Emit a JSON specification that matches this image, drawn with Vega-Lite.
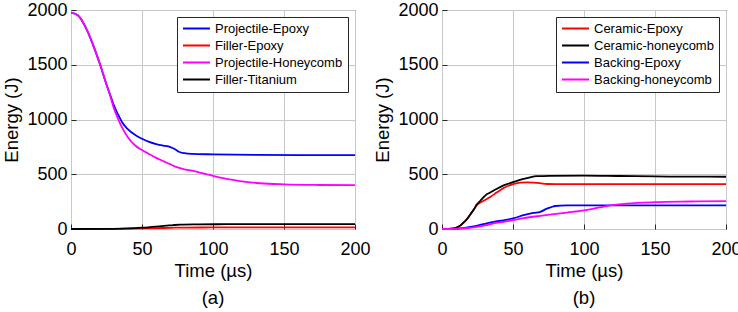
{
  "$schema": "https://vega.github.io/schema/vega-lite/v6.json",
  "padding": {"left": 2, "top": 0, "right": 0, "bottom": 0},
  "background": "white",
  "spacing": 2,
  "config": {
    "font": "Liberation Sans",
    "view": {"stroke": "#262626", "strokeWidth": 1},
    "axis": {
      "domain": false,
      "ticks": true,
      "tickSize": -5,
      "tickColor": "#262626",
      "tickWidth": 1,
      "grid": true,
      "gridColor": "#c8c8c8",
      "gridWidth": 1,
      "format": "d",
      "labelFont": "Liberation Sans",
      "labelFontSize": 18,
      "labelColor": "#000000",
      "titleFont": "Liberation Sans",
      "titleFontSize": 18.5,
      "titleFontWeight": "normal",
      "titleColor": "#000000"
    },
    "axisX": {"labelPadding": 16, "titlePadding": 3, "labelFlush": false},
    "axisY": {"labelPadding": 9, "titlePadding": 5},
    "legend": {
      "orient": "top-right",
      "offset": 7,
      "title": null,
      "strokeColor": "#262626",
      "fillColor": "white",
      "padding": 5,
      "symbolType": "stroke",
      "symbolSize": 729,
      "symbolStrokeWidth": 2,
      "labelFont": "Liberation Sans",
      "labelFontSize": 13,
      "labelColor": "#000000",
      "labelOffset": 4,
      "rowPadding": 3,
      "clipHeight": 13
    },
    "title": {"font": "Liberation Sans", "fontSize": 18.5, "fontWeight": "normal", "color": "#000000", "orient": "bottom", "offset": 9}
  },
  "resolve": {"scale": {"color": "independent"}},
  "hconcat": [
    {
      "width": 284,
      "height": 219,
      "title": {"text": "(a)", "orient": "bottom", "anchor": "middle"},
      "data": {"values": [
        {"series": "Projectile-Epoxy", "t": 0, "E": 1975},
        {"series": "Projectile-Epoxy", "t": 5, "E": 1950},
        {"series": "Projectile-Epoxy", "t": 10, "E": 1850},
        {"series": "Projectile-Epoxy", "t": 15, "E": 1700},
        {"series": "Projectile-Epoxy", "t": 20, "E": 1520},
        {"series": "Projectile-Epoxy", "t": 25, "E": 1320},
        {"series": "Projectile-Epoxy", "t": 28, "E": 1210},
        {"series": "Projectile-Epoxy", "t": 30, "E": 1136},
        {"series": "Projectile-Epoxy", "t": 33, "E": 1050},
        {"series": "Projectile-Epoxy", "t": 36, "E": 975},
        {"series": "Projectile-Epoxy", "t": 40, "E": 912},
        {"series": "Projectile-Epoxy", "t": 45, "E": 860},
        {"series": "Projectile-Epoxy", "t": 50, "E": 824},
        {"series": "Projectile-Epoxy", "t": 55, "E": 795},
        {"series": "Projectile-Epoxy", "t": 60, "E": 775},
        {"series": "Projectile-Epoxy", "t": 65, "E": 762},
        {"series": "Projectile-Epoxy", "t": 70, "E": 748},
        {"series": "Projectile-Epoxy", "t": 73, "E": 730},
        {"series": "Projectile-Epoxy", "t": 76, "E": 705},
        {"series": "Projectile-Epoxy", "t": 80, "E": 692},
        {"series": "Projectile-Epoxy", "t": 85, "E": 686},
        {"series": "Projectile-Epoxy", "t": 100, "E": 682},
        {"series": "Projectile-Epoxy", "t": 130, "E": 677},
        {"series": "Projectile-Epoxy", "t": 160, "E": 675},
        {"series": "Projectile-Epoxy", "t": 200, "E": 675},
        {"series": "Filler-Epoxy", "t": 0, "E": 0},
        {"series": "Filler-Epoxy", "t": 30, "E": 1},
        {"series": "Filler-Epoxy", "t": 50, "E": 5},
        {"series": "Filler-Epoxy", "t": 60, "E": 8},
        {"series": "Filler-Epoxy", "t": 70, "E": 11},
        {"series": "Filler-Epoxy", "t": 80, "E": 13},
        {"series": "Filler-Epoxy", "t": 100, "E": 14},
        {"series": "Filler-Epoxy", "t": 200, "E": 14},
        {"series": "Projectile-Honeycomb", "t": 0, "E": 1975},
        {"series": "Projectile-Honeycomb", "t": 5, "E": 1950},
        {"series": "Projectile-Honeycomb", "t": 10, "E": 1850},
        {"series": "Projectile-Honeycomb", "t": 15, "E": 1700},
        {"series": "Projectile-Honeycomb", "t": 20, "E": 1520},
        {"series": "Projectile-Honeycomb", "t": 25, "E": 1320},
        {"series": "Projectile-Honeycomb", "t": 28, "E": 1200},
        {"series": "Projectile-Honeycomb", "t": 30, "E": 1110},
        {"series": "Projectile-Honeycomb", "t": 33, "E": 1010},
        {"series": "Projectile-Honeycomb", "t": 36, "E": 925},
        {"series": "Projectile-Honeycomb", "t": 40, "E": 838},
        {"series": "Projectile-Honeycomb", "t": 45, "E": 765},
        {"series": "Projectile-Honeycomb", "t": 50, "E": 721},
        {"series": "Projectile-Honeycomb", "t": 55, "E": 685},
        {"series": "Projectile-Honeycomb", "t": 60, "E": 650},
        {"series": "Projectile-Honeycomb", "t": 65, "E": 620},
        {"series": "Projectile-Honeycomb", "t": 70, "E": 590},
        {"series": "Projectile-Honeycomb", "t": 75, "E": 562},
        {"series": "Projectile-Honeycomb", "t": 80, "E": 545},
        {"series": "Projectile-Honeycomb", "t": 86, "E": 530},
        {"series": "Projectile-Honeycomb", "t": 93, "E": 508},
        {"series": "Projectile-Honeycomb", "t": 100, "E": 485},
        {"series": "Projectile-Honeycomb", "t": 107, "E": 465},
        {"series": "Projectile-Honeycomb", "t": 114, "E": 448},
        {"series": "Projectile-Honeycomb", "t": 123, "E": 430},
        {"series": "Projectile-Honeycomb", "t": 133, "E": 418},
        {"series": "Projectile-Honeycomb", "t": 150, "E": 408},
        {"series": "Projectile-Honeycomb", "t": 175, "E": 402},
        {"series": "Projectile-Honeycomb", "t": 200, "E": 400},
        {"series": "Filler-Titanium", "t": 0, "E": 0},
        {"series": "Filler-Titanium", "t": 30, "E": 2},
        {"series": "Filler-Titanium", "t": 40, "E": 5},
        {"series": "Filler-Titanium", "t": 50, "E": 12},
        {"series": "Filler-Titanium", "t": 60, "E": 22},
        {"series": "Filler-Titanium", "t": 67, "E": 30},
        {"series": "Filler-Titanium", "t": 72, "E": 36},
        {"series": "Filler-Titanium", "t": 77, "E": 40},
        {"series": "Filler-Titanium", "t": 90, "E": 42},
        {"series": "Filler-Titanium", "t": 110, "E": 44},
        {"series": "Filler-Titanium", "t": 150, "E": 45},
        {"series": "Filler-Titanium", "t": 200, "E": 45}
      ]},
      "mark": {"type": "line", "strokeWidth": 1.8, "interpolate": "monotone"},
      "encoding": {
        "x": {"field": "t", "type": "quantitative", "scale": {"domain": [0, 200], "nice": false}, "axis": {"values": [0, 50, 100, 150, 200], "title": "Time (µs)"}},
        "y": {"field": "E", "type": "quantitative", "scale": {"domain": [0, 2000], "nice": false}, "axis": {"values": [0, 500, 1000, 1500, 2000], "title": "Energy (J)"}},
        "color": {"field": "series", "type": "nominal",
          "scale": {"domain": ["Projectile-Epoxy", "Filler-Epoxy", "Projectile-Honeycomb", "Filler-Titanium"], "range": ["#0000ff", "#ff0000", "#ff00ff", "#000000"]}}
      }
    },
    {
      "width": 284,
      "height": 219,
      "title": {"text": "(b)", "orient": "bottom", "anchor": "middle"},
      "data": {"values": [
        {"series": "Ceramic-Epoxy", "t": 0, "E": 0},
        {"series": "Ceramic-Epoxy", "t": 5, "E": 2},
        {"series": "Ceramic-Epoxy", "t": 8, "E": 5},
        {"series": "Ceramic-Epoxy", "t": 10.6, "E": 14},
        {"series": "Ceramic-Epoxy", "t": 13, "E": 32},
        {"series": "Ceramic-Epoxy", "t": 15.3, "E": 58},
        {"series": "Ceramic-Epoxy", "t": 18, "E": 96},
        {"series": "Ceramic-Epoxy", "t": 20, "E": 133},
        {"series": "Ceramic-Epoxy", "t": 22.5, "E": 178},
        {"series": "Ceramic-Epoxy", "t": 24.6, "E": 220},
        {"series": "Ceramic-Epoxy", "t": 28, "E": 248},
        {"series": "Ceramic-Epoxy", "t": 30, "E": 263},
        {"series": "Ceramic-Epoxy", "t": 34, "E": 292},
        {"series": "Ceramic-Epoxy", "t": 38.7, "E": 335},
        {"series": "Ceramic-Epoxy", "t": 43.4, "E": 374},
        {"series": "Ceramic-Epoxy", "t": 50, "E": 410},
        {"series": "Ceramic-Epoxy", "t": 55, "E": 424},
        {"series": "Ceramic-Epoxy", "t": 60, "E": 425},
        {"series": "Ceramic-Epoxy", "t": 69, "E": 419},
        {"series": "Ceramic-Epoxy", "t": 74, "E": 411},
        {"series": "Ceramic-Epoxy", "t": 90, "E": 410},
        {"series": "Ceramic-Epoxy", "t": 150, "E": 410},
        {"series": "Ceramic-Epoxy", "t": 200, "E": 410},
        {"series": "Ceramic-honeycomb", "t": 0, "E": 0},
        {"series": "Ceramic-honeycomb", "t": 5, "E": 2},
        {"series": "Ceramic-honeycomb", "t": 8, "E": 5},
        {"series": "Ceramic-honeycomb", "t": 10.6, "E": 15},
        {"series": "Ceramic-honeycomb", "t": 13, "E": 33},
        {"series": "Ceramic-honeycomb", "t": 15.3, "E": 60},
        {"series": "Ceramic-honeycomb", "t": 18, "E": 98},
        {"series": "Ceramic-honeycomb", "t": 20, "E": 135},
        {"series": "Ceramic-honeycomb", "t": 22.5, "E": 180},
        {"series": "Ceramic-honeycomb", "t": 24.6, "E": 225},
        {"series": "Ceramic-honeycomb", "t": 27, "E": 258},
        {"series": "Ceramic-honeycomb", "t": 29.3, "E": 290},
        {"series": "Ceramic-honeycomb", "t": 31, "E": 312},
        {"series": "Ceramic-honeycomb", "t": 34, "E": 333},
        {"series": "Ceramic-honeycomb", "t": 38.7, "E": 368},
        {"series": "Ceramic-honeycomb", "t": 43.4, "E": 398},
        {"series": "Ceramic-honeycomb", "t": 50, "E": 428},
        {"series": "Ceramic-honeycomb", "t": 57.5, "E": 458},
        {"series": "Ceramic-honeycomb", "t": 62, "E": 472},
        {"series": "Ceramic-honeycomb", "t": 67, "E": 482},
        {"series": "Ceramic-honeycomb", "t": 76, "E": 486},
        {"series": "Ceramic-honeycomb", "t": 100, "E": 488},
        {"series": "Ceramic-honeycomb", "t": 125, "E": 484},
        {"series": "Ceramic-honeycomb", "t": 150, "E": 480},
        {"series": "Ceramic-honeycomb", "t": 175, "E": 478},
        {"series": "Ceramic-honeycomb", "t": 200, "E": 477},
        {"series": "Backing-Epoxy", "t": 0, "E": 0},
        {"series": "Backing-Epoxy", "t": 8, "E": 1},
        {"series": "Backing-Epoxy", "t": 12.9, "E": 6},
        {"series": "Backing-Epoxy", "t": 17, "E": 13},
        {"series": "Backing-Epoxy", "t": 22.3, "E": 24},
        {"series": "Backing-Epoxy", "t": 29.3, "E": 45},
        {"series": "Backing-Epoxy", "t": 36.4, "E": 66},
        {"series": "Backing-Epoxy", "t": 43.4, "E": 79},
        {"series": "Backing-Epoxy", "t": 50, "E": 96},
        {"series": "Backing-Epoxy", "t": 57.5, "E": 126},
        {"series": "Backing-Epoxy", "t": 64.5, "E": 147},
        {"series": "Backing-Epoxy", "t": 69.2, "E": 157},
        {"series": "Backing-Epoxy", "t": 73.9, "E": 186},
        {"series": "Backing-Epoxy", "t": 77, "E": 200},
        {"series": "Backing-Epoxy", "t": 79.8, "E": 210},
        {"series": "Backing-Epoxy", "t": 88, "E": 215},
        {"series": "Backing-Epoxy", "t": 100, "E": 216},
        {"series": "Backing-Epoxy", "t": 150, "E": 216},
        {"series": "Backing-Epoxy", "t": 200, "E": 215},
        {"series": "Backing-honeycomb", "t": 0, "E": 0},
        {"series": "Backing-honeycomb", "t": 10, "E": 2},
        {"series": "Backing-honeycomb", "t": 16, "E": 7},
        {"series": "Backing-honeycomb", "t": 22.3, "E": 15},
        {"series": "Backing-honeycomb", "t": 29.3, "E": 30},
        {"series": "Backing-honeycomb", "t": 36.4, "E": 51},
        {"series": "Backing-honeycomb", "t": 43.4, "E": 66},
        {"series": "Backing-honeycomb", "t": 50, "E": 81},
        {"series": "Backing-honeycomb", "t": 57.5, "E": 99},
        {"series": "Backing-honeycomb", "t": 69.2, "E": 120},
        {"series": "Backing-honeycomb", "t": 78.6, "E": 135},
        {"series": "Backing-honeycomb", "t": 88, "E": 150},
        {"series": "Backing-honeycomb", "t": 100, "E": 170},
        {"series": "Backing-honeycomb", "t": 110, "E": 195},
        {"series": "Backing-honeycomb", "t": 120, "E": 218},
        {"series": "Backing-honeycomb", "t": 130, "E": 232},
        {"series": "Backing-honeycomb", "t": 150, "E": 245},
        {"series": "Backing-honeycomb", "t": 175, "E": 251},
        {"series": "Backing-honeycomb", "t": 200, "E": 255}
      ]},
      "mark": {"type": "line", "strokeWidth": 1.8, "interpolate": "monotone"},
      "encoding": {
        "x": {"field": "t", "type": "quantitative", "scale": {"domain": [0, 200], "nice": false}, "axis": {"values": [0, 50, 100, 150, 200], "title": "Time (µs)"}},
        "y": {"field": "E", "type": "quantitative", "scale": {"domain": [0, 2000], "nice": false}, "axis": {"values": [0, 500, 1000, 1500, 2000], "title": "Energy (J)"}},
        "color": {"field": "series", "type": "nominal",
          "scale": {"domain": ["Ceramic-Epoxy", "Ceramic-honeycomb", "Backing-Epoxy", "Backing-honeycomb"], "range": ["#ff0000", "#000000", "#0000ff", "#ff00ff"]}}
      }
    }
  ]
}
